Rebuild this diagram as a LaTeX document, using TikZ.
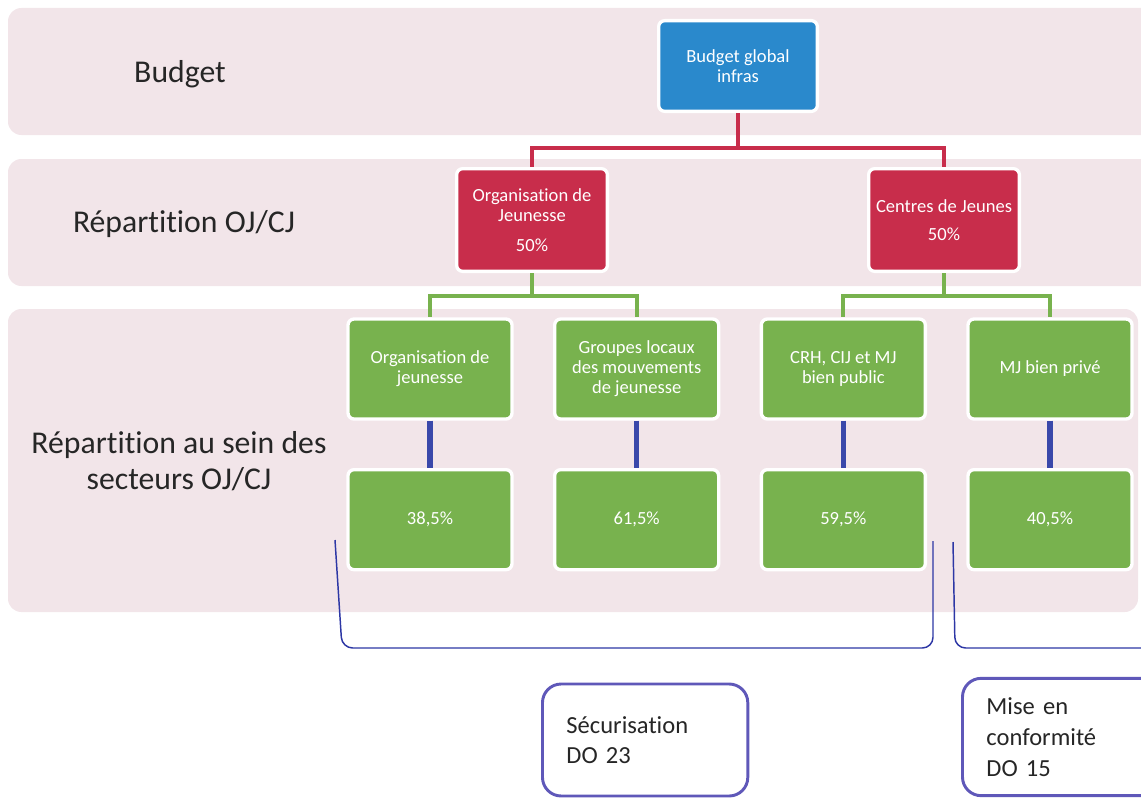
\documentclass[tikz,border=0pt]{standalone}
\usepackage{fontspec}
\setmainfont{Carlito}[Ligatures=NoCommon]

\begin{document}
\begin{tikzpicture}[x=0.75pt,y=-0.75pt,node distance=155pt,
  band/.style={fill=bandpink,rounded corners=10pt},
  main node/.style={rectangle,rounded corners=4.5pt,draw=white,line width=2.5pt,
    text=white,align=center,font=\fontsize{13.9}{15}\selectfont},
  top node/.style={main node,fill=budgetblue,minimum width=119pt,minimum height=68pt},
  red node/.style={main node,fill=ojred,minimum width=113pt,minimum height=77pt},
  green node/.style={main node,fill=secgreen,minimum width=123pt,minimum height=75pt},
  row label/.style={text=black!85,align=center,font=\fontsize{23.8}{26.5}\selectfont},
  do box/.style={rectangle,rounded corners=14pt,draw=doborder,line width=2.2pt,fill=white,
    inner xsep=18pt,font=\fontsize{18.4}{23}\selectfont,text=black!85,
    execute at begin node={\raggedright\parindent=0pt}},
  elbow/.style={to path={-- ++(0,-#1) -| (\tikztotarget)}}]
  \definecolor{bandpink}{RGB}{242,229,233}
  \definecolor{budgetblue}{RGB}{42,137,204}
  \definecolor{ojred}{RGB}{200,45,75}
  \definecolor{secgreen}{RGB}{120,178,78}
  \definecolor{linkblue}{RGB}{58,72,170}
  \definecolor{bracenavy}{RGB}{45,55,165}
  \definecolor{doborder}{RGB}{95,88,185}

  \useasboundingbox (0,0) rectangle (1141,799);
  \clip (0,0) rectangle (1141,799);

  % bands
  \fill[band] (8,8) rectangle (1170,135);
  \fill[band] (8,159) rectangle (1170,286);
  \fill[band] (8,309) rectangle (1138,612);

  \node[row label,anchor=base] (lbudget) at (180,83) {Budget};
  \node[row label,anchor=base] (lrep) at (184,232) {Répartition OJ/CJ};
  \node[row label] (lsect) at (179,461) {Répartition au sein des\\secteurs OJ/CJ};

  \node[top node] (budget) at (738,66) {Budget global\\infras};
  \node[red node] (oj) at (532,220) {Organisation de\\Jeunesse\\[7pt]50\%};
  \node[red node] (cj) at (944,220) {Centres de Jeunes\\[6pt]50\%};

  \node[green node] (g1) at (430,369) {Organisation de\\jeunesse};
  \node[green node] (g2) [right of=g1] {Groupes locaux\\des mouvements\\de jeunesse};
  \node[green node] (g3) [right of=g2] {CRH, CIJ et MJ\\bien public};
  \node[green node] (g4) [right of=g3] {MJ bien privé};

  \node[green node] (p1) [below of=g1,node distance=113pt] {38,5\%};
  \node[green node] (p2) [below of=g2,node distance=113pt] {61,5\%};
  \node[green node] (p3) [below of=g3,node distance=113pt] {59,5\%};
  \node[green node] (p4) [below of=g4,node distance=113pt] {40,5\%};

  \node[do box,anchor=west,text width=118pt,minimum height=84pt] (secu) at (541,740)
    {Sécurisation\\DO 23};
  \node[do box,anchor=west,text width=126pt,minimum height=88pt] (conf) at (961,737)
    {Mise en\\conformité\\DO 15};

  \path[draw=ojred,line width=3pt]
    (budget.south) edge[elbow=26pt] (oj.north)
                   edge[elbow=26pt] (cj.north);
  \path[draw=secgreen,line width=3pt]
    (oj.south) edge[elbow=17pt] (g1.north)
               edge[elbow=17pt] (g2.north)
    (cj.south) edge[elbow=17pt] (g3.north)
               edge[elbow=17pt] (g4.north);
  \path[draw=linkblue,line width=4pt]
    (g1) edge (p1)
    (g2) edge (p2)
    (g3) edge (p3)
    (g4) edge (p4);

  % brackets
  \coordinate (lb1) at (335,540);
  \coordinate (lb2) at (342,648);
  \coordinate (lb3) at (933,648);
  \coordinate (lb4) at (933,541);
  \coordinate (rb1) at (953,542);
  \coordinate (rb2) at (955,648);
  \coordinate (rb3) at (1170,648);
  \draw[bracenavy,line width=1.1pt,rounded corners=8pt] (lb1) -- (lb2) -- (lb3) -- (lb4);
  \draw[bracenavy,line width=1.1pt,rounded corners=8pt] (rb1) -- (rb2) -- (rb3);
\end{tikzpicture}
\end{document}
